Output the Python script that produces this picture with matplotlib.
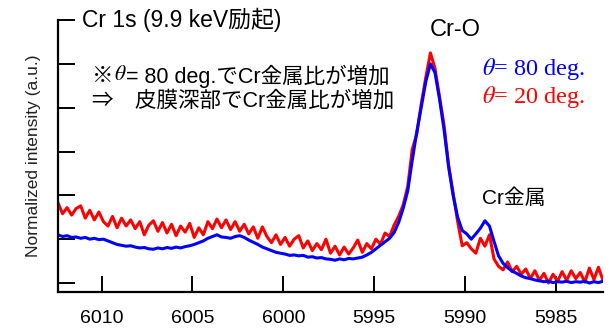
import numpy as np
import matplotlib
matplotlib.use("Agg")
import matplotlib.pyplot as plt

plt.rcParams['font.family'] = ['Liberation Sans', 'Noto Sans CJK JP', 'DejaVu Sans']
plt.rcParams['mathtext.fontset'] = 'stix'

# binding energy grid (eV), 0.25 eV steps from 6012.4 down to 5982.4
energy = np.arange(6012.4, 5982.35, -0.25)

# theta = 80 deg. (blue)
theta80 = [
    1.10, 1.06, 1.08, 1.04, 1.05, 1.02, 1.04, 1.00, 1.02, 0.99,
    1.00, 0.96, 0.92, 0.88, 0.86, 0.84, 0.85, 0.82, 0.80, 0.81,
    0.78, 0.77, 0.80, 0.78, 0.81, 0.79, 0.82, 0.80, 0.83, 0.85,
    0.88, 0.92, 0.96, 1.02, 1.06, 1.10, 1.05, 1.04, 1.02, 1.06,
    1.08, 1.04, 0.98, 0.93, 0.88, 0.82, 0.78, 0.74, 0.70, 0.68,
    0.66, 0.63, 0.64, 0.62, 0.63, 0.59, 0.60, 0.57, 0.58, 0.55,
    0.54, 0.52, 0.55, 0.53, 0.56, 0.55, 0.57, 0.59, 0.64, 0.70,
    0.78, 0.86, 0.94, 1.02, 1.15, 1.38, 1.70, 2.10, 2.80, 3.45,
    4.02, 4.60, 5.00, 4.80, 4.20, 3.50, 2.65, 2.00, 1.50, 1.20,
    1.12, 1.00, 1.12, 1.25, 1.42, 1.30, 0.95, 0.62, 0.45, 0.35,
    0.27, 0.22, 0.16, 0.12, 0.10, 0.07, 0.05, 0.03, 0.04, 0.01,
    0.03, 0.02, 0.04, 0.01, 0.03, 0.02, 0.04, 0.00, 0.03, 0.01,
    0.04,
]

# theta = 20 deg. (red)
theta20 = [
    1.83, 1.58, 1.72, 1.55, 1.70, 1.76, 1.48, 1.66, 1.44, 1.62,
    1.40, 1.30, 1.52, 1.26, 1.48, 1.30, 1.44, 1.24, 1.40, 1.10,
    1.32, 1.42, 1.18, 1.38, 1.14, 1.34, 1.08, 1.30, 1.16, 1.36,
    1.04, 1.26, 1.10, 1.40, 1.24, 1.46, 1.26, 1.44, 1.22, 1.40,
    1.18, 1.34, 1.12, 1.28, 1.02, 1.28, 1.06, 0.92, 1.10, 0.88,
    1.04, 0.84, 1.00, 1.08, 0.80, 0.96, 0.74, 0.90, 0.76, 1.00,
    0.68, 0.84, 0.64, 0.82, 0.66, 0.80, 0.98, 0.70, 0.90, 0.78,
    1.00, 0.88, 1.14, 1.06, 1.32, 1.52, 1.78, 2.20, 3.05, 3.40,
    4.10, 4.70, 5.25, 4.90, 4.25, 3.60, 2.70, 2.05, 1.40, 0.85,
    0.92, 0.78, 0.68, 1.02, 0.84, 1.10, 0.55, 0.38, 0.30, 0.48,
    0.26, 0.38, 0.20, 0.32, 0.10, 0.28, 0.06, 0.22, 0.00, 0.20,
    0.04, 0.26, 0.06, 0.28, 0.10, 0.24, 0.02, 0.34, 0.08, 0.36,
    0.06,
]

W, H = 611, 329


def fig_xy(x, y):
    return x / W, 1 - y / H


fig = plt.figure(figsize=(W / 100, H / 100), dpi=100)
ax = fig.add_axes([58 / W, 1 - 292 / H, (603 - 58) / W, (292 - 20) / H])

ax.plot(energy, theta20, color='#ff0000', lw=2.2)
ax.plot(energy, theta80, color='#0000ff', lw=2.2)

ax.set_xlim(6012.4, 5982.4)
ax.set_ylim(-0.205, 6.0)
ax.set_xticks([6010, 6005, 6000, 5995, 5990, 5985])
ax.set_yticks(np.arange(0, 7))
ax.set_yticklabels([])
ax.tick_params(axis='x', direction='in', length=11.5, width=1.4, labelsize=14, pad=13)
ax.tick_params(axis='y', direction='in', length=12, width=1.4)
for side in ['top', 'right']:
    ax.spines[side].set_visible(False)
for side in ['left', 'bottom']:
    ax.spines[side].set_linewidth(1.6)
ax.set_ylabel('Normalized intensity (a.u.)', fontsize=12.5, labelpad=9, color='#222222')

fig.text(*fig_xy(82, 20), 'Cr 1s (9.9 keV励起)', fontsize=16.5, va='center')
fig.text(*fig_xy(430, 30), 'Cr-O', fontsize=17, va='center')
fig.text(*fig_xy(482, 198), 'Cr金属', fontsize=15, va='center')

fig.text(*fig_xy(482, 69), r'$\theta$= 80 deg.', fontsize=17.5, va='center',
         color='#0000ff', family='Liberation Serif')
fig.text(*fig_xy(482, 97), r'$\theta$= 20 deg.', fontsize=17.5, va='center',
         color='#ff0000', family='Liberation Serif')

# first note line: sans text with a serif italic theta in it
fig.canvas.draw()
renderer = fig.canvas.get_renderer()
x0, y0 = fig_xy(92, 76)
pieces = [('※', {}), (r'$\theta$', {'family': 'Liberation Serif'}),
          ('= 80 deg.でCr金属比が増加', {})]
for s, kw in pieces:
    t = fig.text(x0, y0, s, fontsize=15.5, va='center', **kw)
    bb = t.get_window_extent(renderer)
    x0 += bb.width / W
fig.text(*fig_xy(92, 101), '⇒　皮膜深部でCr金属比が増加', fontsize=15.5, va='center')

fig.savefig('out.png', dpi=100)
